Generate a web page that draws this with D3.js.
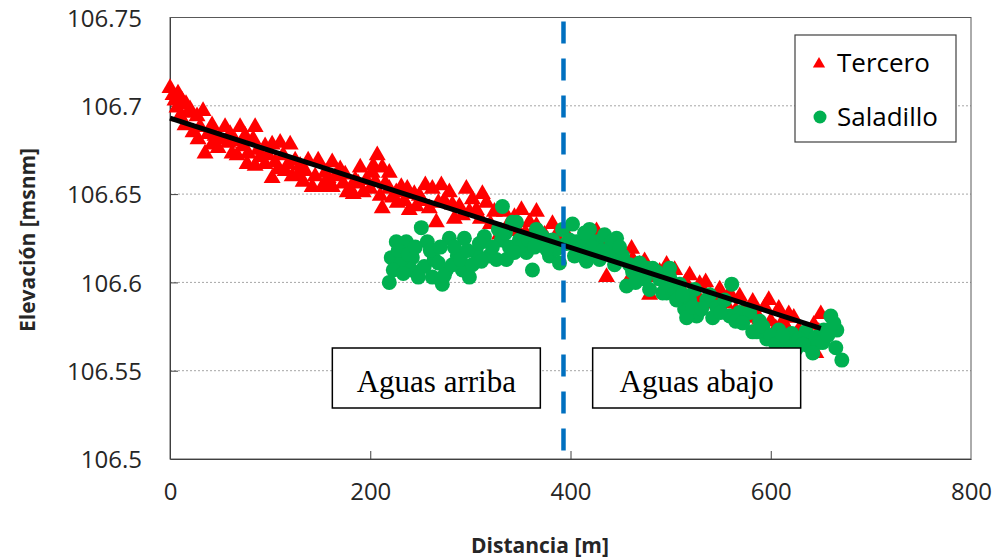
<!DOCTYPE html>
<html>
<head>
<meta charset="utf-8">
<script src="https://cdn.jsdelivr.net/npm/d3@7"></script>
<style>
  body { margin: 0; background: #fff; }
  .tick text { font-family: "Open Sans", sans-serif; }
</style>
</head>
<body>
<div id="chart"></div>
<script>
// Tercero profile points: [distance m, elevation msnm]
let tercero = [
    [0,106.710],[3,106.706],[8,106.707],[12,106.703],[7,106.699],[16,106.701],[20,106.698],
    [33,106.697],[27,106.694],[23,106.685],[28,106.681],[35,106.673],[42,106.689],[42,106.678],
    [50,106.681],[55,106.688],[62,106.673],[67,106.672],[70,106.688],[78,106.673],[83,106.681],
    [85,106.688],[95,106.677],[102,106.678],[110,106.679],[120,106.678],[77,106.667],[85,106.666],
    [95,106.667],[102,106.659],[108,106.664],[118,106.667],[128,106.661],[133,106.657],[138,106.669],
    [142,106.654],[148,106.669],[152,106.654],[162,106.668],[162,106.654],[113,106.672],[125,106.669],
    [175,106.661],[180,106.652],[185,106.658],[160,106.656],[173,106.656],[177,106.651],[190,106.665],
    [202,106.662],[207,106.672],[203,106.666],[212,106.665],[219,106.662],[193,106.651],[200,106.653],
    [212,106.642],[219,106.653],[226,106.651],[231,106.654],[237,106.653],[227,106.645],[239,106.641],
    [249,106.649],[259,106.642],[262,106.653],[271,106.655],[266,106.634],[279,106.651],[284,106.636],
    [289,106.643],[296,106.653],[302,106.647],[306,106.641],[316,106.645],[324,106.640],[329,106.627],
    [334,106.640],[344,106.637],[351,106.641],[366,106.640],[366,106.632],[382,106.633],[377,106.620],
    [359,106.634],[374,106.627],[394,106.629],[406,106.615],[414,106.624],[426,106.629],[436,106.623],
    [436,106.603],[449,106.619],[461,106.619],[462,106.613],[474,106.612],[479,106.593],[496,106.610],
    [489,106.606],[504,106.607],[519,106.604],[529,106.599],[535,106.600],[549,106.596],[559,106.594],
    [569,106.592],[582,106.589],[594,106.586],[608,106.585],[615,106.575],[623,106.580],[635,106.572],
    [643,106.576],[650,106.582],[645,106.560],[457,106.600],[429,106.620],[469,106.610],[529,106.590],
    [574,106.585],[589,106.579],[598,106.590],[628,106.573],[618,106.582],
    [5,106.703],[10,106.694],[15,106.689],[18,106.696],[30,106.688],[38,106.684],[45,106.683],
    [48,106.676],[58,106.679],[60,106.684],[65,106.680],[73,106.677],[75,106.683],[88,106.675],
    [90,106.671],[98,106.672],[105,106.668],[115,106.663],[122,106.660],[130,106.666],[135,106.663],
    [145,106.660],[155,106.662],[158,106.659],[165,106.660],[170,106.664],[183,106.650],[188,106.656],
    [196,106.658],[205,106.657],[210,106.649],[215,106.656],[222,106.648],[234,106.646],[244,106.650],
    [246,106.643],[252,106.646],[255,106.655],[268,106.645],[274,106.646],[282,106.644],[292,106.638],
    [299,106.640],[310,106.636],[312,106.650],[320,106.633],[338,106.633],[348,106.629],[355,106.628],
    [362,106.627],[370,106.624],[385,106.626],[390,106.622],[400,106.622],[410,106.620],[420,106.617],
    [432,106.616],[442,106.615],[455,106.612],[465,106.606],[484,106.603],[492,106.601],[500,106.602],
    [510,106.597],[515,106.600],[525,106.594],[540,106.592],[545,106.588],[555,106.588],[565,106.584],
    [578,106.580],[585,106.582],[600,106.578],[605,106.574],[612,106.578],[625,106.570],[632,106.566],
    [640,106.568],[648,106.572]
];

// Saladillo profile points: [distance m, elevation msnm]
let saladillo = [
    [219,106.600],[221,106.614],[226,106.623],[236,106.623],[231,106.611],[242,106.614],[241,106.607],
    [251,106.631],[257,106.623],[254,106.609],[264,106.613],[272,106.599],[276,106.607],[279,106.625],
    [287,106.615],[292,106.607],[294,106.625],[299,106.603],[306,106.617],[314,106.626],[319,106.615],
    [326,106.613],[332,106.643],[331,106.624],[339,106.620],[346,106.634],[349,106.624],[362,106.607],
    [356,106.617],[372,106.626],[379,106.615],[386,106.619],[392,106.630],[402,106.633],[409,106.620],
    [416,106.612],[342,106.634],[336,106.613],[352,106.621],[369,106.628],[376,106.619],[406,106.623],
    [412,106.615],[416,106.624],[426,106.623],[429,106.613],[446,106.625],[439,106.616],[452,106.615],
    [456,106.598],[462,106.606],[469,106.611],[482,106.608],[489,106.602],[496,106.594],[499,106.603],
    [422,106.620],[476,106.608],[486,106.606],[492,106.594],[502,106.595],[499,106.608],[504,106.596],
    [514,106.585],[526,106.581],[536,106.590],[546,106.586],[561,106.599],[559,106.581],[569,106.583],
    [579,106.583],[582,106.572],[596,106.568],[608,106.573],[621,106.571],[635,106.572],[638,106.564],
    [645,106.569],[648,106.566],[660,106.581],[666,106.573],[665,106.563],[671,106.556],[539,106.593],
    [554,106.590],[589,106.578],[618,106.565],[628,106.568],[653,106.573],[399,106.624],[419,106.630],
    [434,106.627],[441,106.623],[459,106.610],[474,106.602],[509,106.599],[519,106.590],[524,106.596],
    [223,106.607],[228,106.618],[233,106.605],[238,106.616],[245,106.620],[248,106.603],[260,106.618],
    [262,106.603],[268,106.611],[270,106.620],[274,106.604],[282,106.610],[284,106.620],[290,106.613],
    [297,106.618],[302,106.610],[309,106.622],[311,106.612],[322,106.620],[328,106.630],[335,106.628],
    [344,106.617],[358,106.624],[364,106.620],[366,106.630],[382,106.624],[389,106.611],[396,106.622],
    [404,106.615],[414,106.628],[432,106.618],[444,106.610],[449,106.620],[465,106.600],[472,106.605],
    [479,106.596],[494,106.600],[506,106.590],[512,106.593],[516,106.580],[522,106.586],[531,106.585],
    [542,106.580],[550,106.583],[565,106.578],[572,106.577],[586,106.572],[592,106.575],[600,106.570],
    [605,106.565],[612,106.570],[625,106.562],[632,106.565],[642,106.560],[652,106.566],[657,106.570],
    [663,106.577]
];

// fitted trend line end points
let trend = [[0,106.693],[650,106.574]];
// boundary between upstream / downstream
let divide = 393;

let xTicks = [0,200,400,600,800];
let yTicks = [106.5,106.55,106.6,106.65,106.7,106.75];
let seriesNames = ["Tercero","Saladillo"];
let zoneLabels = ["Aguas arriba","Aguas abajo"];
let zoneCenters = [266, 526];

let width = 1002, height = 560;
let margin = {top: 17.5, right: 31, bottom: 101, left: 170};
let plotW = width - margin.left - margin.right;
let plotH = height - margin.top - margin.bottom;

let svg = d3.select("#chart").append("svg")
    .attr("width", width)
    .attr("height", height);

let xScale = d3.scaleLinear().domain([0, 800]).range([margin.left, margin.left + plotW]);
let yScale = d3.scaleLinear().domain([106.5, 106.75]).range([margin.top + plotH, margin.top]);

//grid lines
svg.append("g").selectAll("line")
    .data(yTicks.filter(d => d > 106.5 && d < 106.75))
    .enter().append("line")
    .attr("x1", xScale(0)).attr("x2", xScale(800))
    .attr("y1", d => yScale(d)).attr("y2", d => yScale(d))
    .attr("stroke", "#a6a6a6")
    .attr("stroke-width", 1)
    .attr("stroke-dasharray", "2,2");

//plot border
svg.append("rect")
    .attr("x", xScale(0)).attr("y", yScale(106.75))
    .attr("width", plotW).attr("height", plotH)
    .attr("fill", "none")
    .attr("stroke", "#595959")
    .attr("stroke-width", 1);

//axes, ticks pointing inside
let xAxis = d3.axisBottom(xScale).tickValues(xTicks).tickSizeInner(-8).tickSizeOuter(0).tickPadding(24);
let yAxis = d3.axisLeft(yScale).tickValues(yTicks).tickSizeInner(-8).tickSizeOuter(0).tickPadding(28)
    .tickFormat(d => d3.format("")(+d.toFixed(2)));

let gx = svg.append("g").attr("transform", "translate(0," + (margin.top + plotH) + ")").call(xAxis);
let gy = svg.append("g").attr("transform", "translate(" + margin.left + ",0)").call(yAxis);
[gx, gy].forEach(g => {
    g.select(".domain").attr("stroke", "#404040");
    g.selectAll(".tick line").attr("stroke", "#404040");
    g.selectAll(".tick text").attr("font-size", 24).attr("fill", "#262626");
});
gx.selectAll(".tick line").filter(d => d == 0 || d == 800).remove();
gy.selectAll(".tick line").filter(d => d == 106.5 || d == 106.75).remove();
gy.selectAll(".tick text").attr("dy", "0.36em");

//axis titles
svg.append("text")
    .attr("x", 540).attr("y", 553)
    .attr("text-anchor", "middle")
    .attr("font-family", "Open Sans, sans-serif")
    .attr("font-weight", "bold")
    .attr("font-size", 21)
    .attr("fill", "#262626")
    .text("Distancia [m]");

svg.append("text")
    .attr("transform", "translate(35,240) rotate(-90)")
    .attr("text-anchor", "middle")
    .attr("font-family", "Open Sans, sans-serif")
    .attr("font-weight", "bold")
    .attr("font-size", 21)
    .attr("fill", "#262626")
    .text("Elevación [msnm]");

let triangle = d3.symbol().type(d3.symbolTriangle).size(125);

svg.append("g").selectAll("path")
    .data(tercero)
    .enter().append("path")
    .attr("d", triangle)
    .attr("transform", d => "translate(" + xScale(d[0]) + "," + yScale(d[1]) + ")")
    .attr("fill", "#ff0000");

svg.append("g").selectAll("circle")
    .data(saladillo)
    .enter().append("circle")
    .attr("cx", d => xScale(d[0]))
    .attr("cy", d => yScale(d[1]))
    .attr("r", 7.5)
    .attr("fill", "#00b050");

//trend line
svg.append("line")
    .attr("x1", xScale(trend[0][0])).attr("y1", yScale(trend[0][1]))
    .attr("x2", xScale(trend[1][0])).attr("y2", yScale(trend[1][1]))
    .attr("stroke", "#000")
    .attr("stroke-width", 5);

//divide line
svg.append("line")
    .attr("x1", xScale(divide)).attr("x2", xScale(divide))
    .attr("y1", yScale(106.75) + 4).attr("y2", yScale(106.5))
    .attr("stroke", "#0070c0")
    .attr("stroke-width", 4.5)
    .attr("stroke-dasharray", "22,15");

//zone labels
let boxW = 208, boxH = 60, boxY = 348;
let zones = svg.append("g").selectAll("g")
    .data(zoneLabels)
    .enter().append("g")
    .attr("transform", (d, i) => "translate(" + xScale(zoneCenters[i]) + "," + boxY + ")");
zones.append("rect")
    .attr("x", -boxW / 2).attr("y", 0)
    .attr("width", boxW).attr("height", boxH)
    .attr("fill", "#fff")
    .attr("stroke", "#000")
    .attr("stroke-width", 1.5);
zones.append("text")
    .attr("x", 0).attr("y", 44)
    .attr("text-anchor", "middle")
    .attr("font-family", "Liberation Serif, serif")
    .attr("font-size", 31)
    .attr("fill", "#000")
    .text(d => d);

//legend
let legend = svg.append("g").attr("transform", "translate(795,35)");
legend.append("rect")
    .attr("width", 161).attr("height", 107)
    .attr("fill", "#fff")
    .attr("stroke", "#404040")
    .attr("stroke-width", 1.2);
legend.append("path")
    .attr("d", d3.symbol().type(d3.symbolTriangle).size(65))
    .attr("transform", "translate(24,29)")
    .attr("fill", "#ff0000");
legend.append("circle")
    .attr("cx", 25).attr("cy", 82).attr("r", 6.5)
    .attr("fill", "#00b050");
legend.selectAll("text")
    .data(seriesNames)
    .enter().append("text")
    .attr("x", 42)
    .attr("y", (d, i) => 37 + i * 54)
    .attr("font-family", "Open Sans, sans-serif")
    .attr("font-size", 26)
    .attr("fill", "#000")
    .text(d => d);
</script>
</body>
</html>
